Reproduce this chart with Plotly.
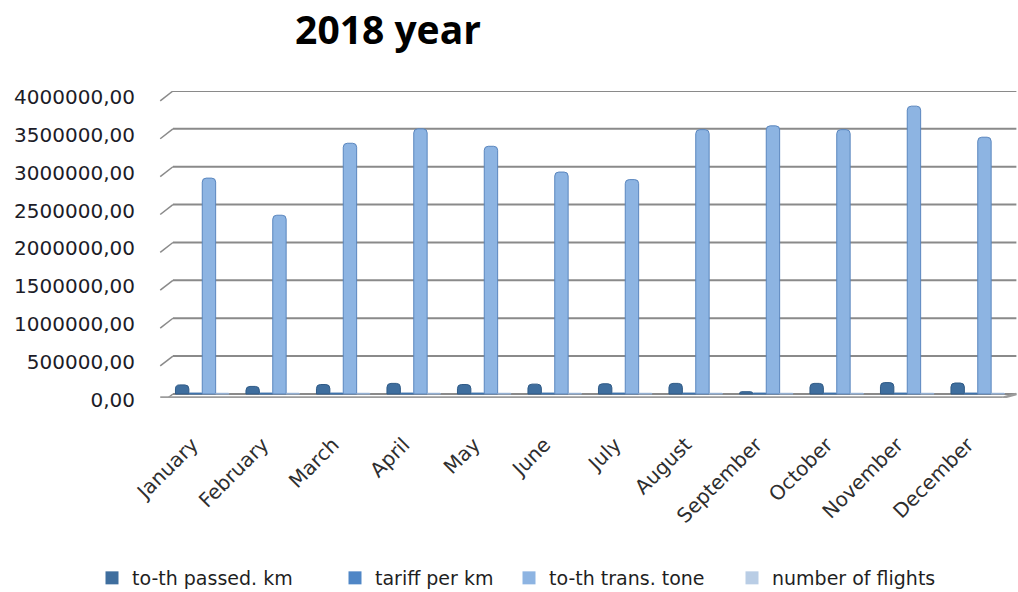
import plotly.graph_objects as go

months = ["January", "February", "March", "April", "May", "June", "July",
          "August", "September", "October", "November", "December"]

passed_km = [120000, 100000, 125000, 140000, 125000, 130000, 135000,
             140000, 30000, 140000, 150000, 145000]
tariff_per_km = [12000] * 12
trans_tone = [2850000, 2360000, 3310000, 3500000, 3270000, 2930000, 2830000,
              3490000, 3540000, 3490000, 3800000, 3390000]
flights = [9000] * 12

y_ticks = [0, 500000, 1000000, 1500000, 2000000, 2500000, 3000000, 3500000, 4000000]

series = [
    ("to-th passed. km", passed_km, "#3F6E9E", "#2F5A86"),
    ("tariff per km", tariff_per_km, "#4F86C6", "#3B6FA8"),
    ("to-th trans. tone", trans_tone, "#8DB4E2", "#5A86BE"),
    ("number of flights", flights, "#B9CDE5", "#93AFD3"),
]

FONT = "DejaVu Sans"
legend_x = [92, 335, 509, 732]
legend_ids = ["legend", "legend2", "legend3", "legend4"]

fig = go.Figure()
for name, vals, fill, edge in series:
    fig.add_trace(go.Bar(
        x=months, y=vals, name=name, showlegend=False,
        marker=dict(color=fill, line=dict(color=edge, width=1), cornerradius=4),
    ))
# square legend keys, one legend box per entry
for (name, vals, fill, edge), lid in zip(series, legend_ids):
    fig.add_trace(go.Scatter(
        x=[None], y=[None], name=name, mode="markers", legend=lid,
        marker=dict(symbol="square", size=13, color=fill),
    ))

# back-wall gridlines with the slanted side-wall ends
rise = 130000
shapes = []
for v in y_ticks:
    shapes.append(dict(type="line", xref="x domain", yref="y",
                       x0=0.007, x1=1.004, y0=v, y1=v,
                       line=dict(color="#8a8a8a", width=2), layer="below"))
    shapes.append(dict(type="line", xref="x domain", yref="y",
                       x0=-0.008, x1=0.007, y0=v - rise, y1=v,
                       line=dict(color="#8a8a8a", width=1.5), layer="below"))
# floor front edge
shapes.append(dict(type="line", xref="x domain", yref="y",
                   x0=-0.008, x1=0.988, y0=-50000, y1=-50000,
                   line=dict(color="#9c9c9c", width=3), layer="below"))
shapes.append(dict(type="line", xref="x domain", yref="y",
                   x0=0.988, x1=1.004, y0=-50000, y1=0,
                   line=dict(color="#9c9c9c", width=2.5), layer="below"))

legend_style = dict(orientation="h", xref="container", yref="container",
                    xanchor="left", y=1 - 578 / 592, yanchor="middle",
                    font=dict(family=FONT, size=19, color="#1f1f1f"),
                    itemwidth=30, bgcolor="rgba(0,0,0,0)")
legends = {lid: dict(legend_style, x=lx / 1018)
           for lid, lx in zip(legend_ids, legend_x)}

fig.update_layout(
    width=1018, height=592,
    margin=dict(l=167, r=5, t=91, b=194),
    paper_bgcolor="white", plot_bgcolor="white",
    separators=",.",
    barmode="group", bargap=0.24, bargroupgap=0.0,
    title=dict(text="<b>2018 year</b>", x=388 / 1018, xanchor="center",
               y=1 - 30 / 592, yanchor="middle",
               font=dict(family="Open Sans", size=39, color="black")),
    xaxis=dict(showgrid=False, showline=False, ticks="",
               tickangle=-45, ticklabelstandoff=30, ticklabelshift=-10,
               tickfont=dict(family=FONT, size=20, color="#2e2e2e")),
    yaxis=dict(range=[-53000, 4000000], tickvals=y_ticks, tickformat=".2f",
               showgrid=False, zeroline=False, showline=False, ticks="",
               ticklabelstandoff=31, ticklabelshift=6,
               tickfont=dict(family=FONT, size=20, color="#1c1c28")),
    shapes=shapes,
    **legends,
)

fig.write_html("out.html")
